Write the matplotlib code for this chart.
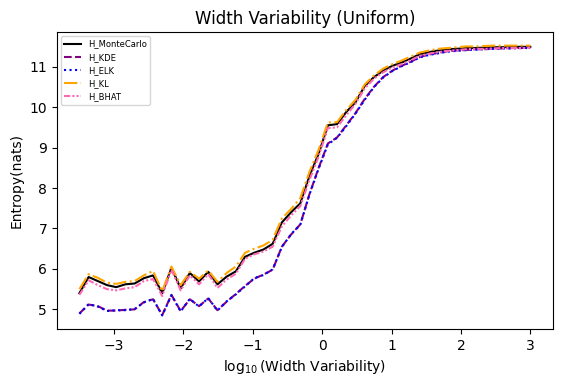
import matplotlib
matplotlib.use('Agg')
import matplotlib.pyplot as plt
import numpy as np

# log10 of width variability, 50 evenly spaced points
log_w = np.linspace(-3.5, 3, 50)

H_MonteCarlo = [5.40, 5.80, 5.70, 5.60, 5.55, 5.62, 5.64, 5.77, 5.84, 5.40,
                6.03, 5.52, 5.90, 5.69, 5.93, 5.62, 5.81, 5.94, 6.30, 6.40,
                6.48, 6.62, 7.15, 7.40, 7.62, 8.30, 8.85, 9.55, 9.58, 9.88,
                10.12, 10.52, 10.74, 10.90, 11.02, 11.10, 11.20, 11.31, 11.36, 11.40,
                11.43, 11.44, 11.46, 11.46, 11.47, 11.48, 11.48, 11.49, 11.49, 11.49]

H_KDE = [4.90, 5.12, 5.08, 4.97, 4.97, 4.99, 5.00, 5.18, 5.25, 4.86,
         5.36, 4.96, 5.25, 5.08, 5.27, 4.98, 5.19, 5.38, 5.58, 5.76,
         5.86, 5.98, 6.55, 6.85, 7.10, 7.85, 8.50, 9.10, 9.25, 9.55,
         9.85, 10.20, 10.50, 10.74, 10.90, 11.02, 11.12, 11.24, 11.30, 11.34,
         11.38, 11.40, 11.41, 11.43, 11.43, 11.45, 11.45, 11.46, 11.46, 11.47]

H_ELK = [4.89, 5.13, 5.07, 4.96, 4.98, 4.98, 5.01, 5.17, 5.26, 4.85,
         5.35, 4.95, 5.26, 5.07, 5.28, 4.97, 5.20, 5.37, 5.57, 5.77,
         5.85, 5.99, 6.54, 6.86, 7.09, 7.84, 8.48, 9.08, 9.24, 9.53,
         9.84, 10.18, 10.49, 10.73, 10.89, 11.01, 11.11, 11.23, 11.29, 11.33,
         11.37, 11.39, 11.41, 11.42, 11.43, 11.44, 11.45, 11.45, 11.46, 11.46]

H_KL = [5.50, 5.87, 5.78, 5.66, 5.63, 5.68, 5.70, 5.84, 5.95, 5.45,
        6.06, 5.60, 5.93, 5.76, 5.96, 5.68, 5.90, 6.06, 6.40, 6.50,
        6.58, 6.72, 7.25, 7.48, 7.75, 8.40, 8.95, 9.62, 9.63, 9.93,
        10.18, 10.56, 10.78, 10.95, 11.06, 11.15, 11.25, 11.35, 11.40, 11.44,
        11.46, 11.48, 11.50, 11.50, 11.51, 11.52, 11.52, 11.52, 11.52, 11.52]

H_BHAT = [5.36, 5.72, 5.60, 5.50, 5.47, 5.52, 5.55, 5.70, 5.75, 5.33,
          5.98, 5.47, 5.84, 5.62, 5.87, 5.53, 5.74, 5.88, 6.25, 6.36,
          6.43, 6.55, 7.05, 7.32, 7.55, 8.20, 8.78, 9.48, 9.50, 9.80,
          10.08, 10.46, 10.70, 10.86, 10.98, 11.06, 11.16, 11.27, 11.32, 11.36,
          11.39, 11.41, 11.43, 11.44, 11.44, 11.45, 11.46, 11.46, 11.46, 11.47]

fig, ax = plt.subplots(figsize=(5.63, 3.87), dpi=100)
ax.plot(log_w, H_MonteCarlo, color='black', linestyle='-', linewidth=1.5, label='H_MonteCarlo')
ax.plot(log_w, H_KDE, color='purple', linestyle='--', linewidth=1.5, label='H_KDE')
ax.plot(log_w, H_ELK, color='blue', linestyle=':', linewidth=1.5, label='H_ELK')
ax.plot(log_w, H_KL, color='orange', linestyle='-.', linewidth=1.5, label='H_KL')
ax.plot(log_w, H_BHAT, color='hotpink', linestyle=(0, (3, 1, 1, 1, 1, 1)), linewidth=1.5, label='H_BHAT')

ax.set_title('Width Variability (Uniform)')
ax.set_xlabel(r'$\log_{10}$(Width Variability)')
ax.set_ylabel('Entropy(nats)')
ax.legend(loc='upper left', fontsize=6)

fig.subplots_adjust(left=0.101, right=0.982, top=0.917, bottom=0.150)
fig.savefig('out.png', dpi=100)
